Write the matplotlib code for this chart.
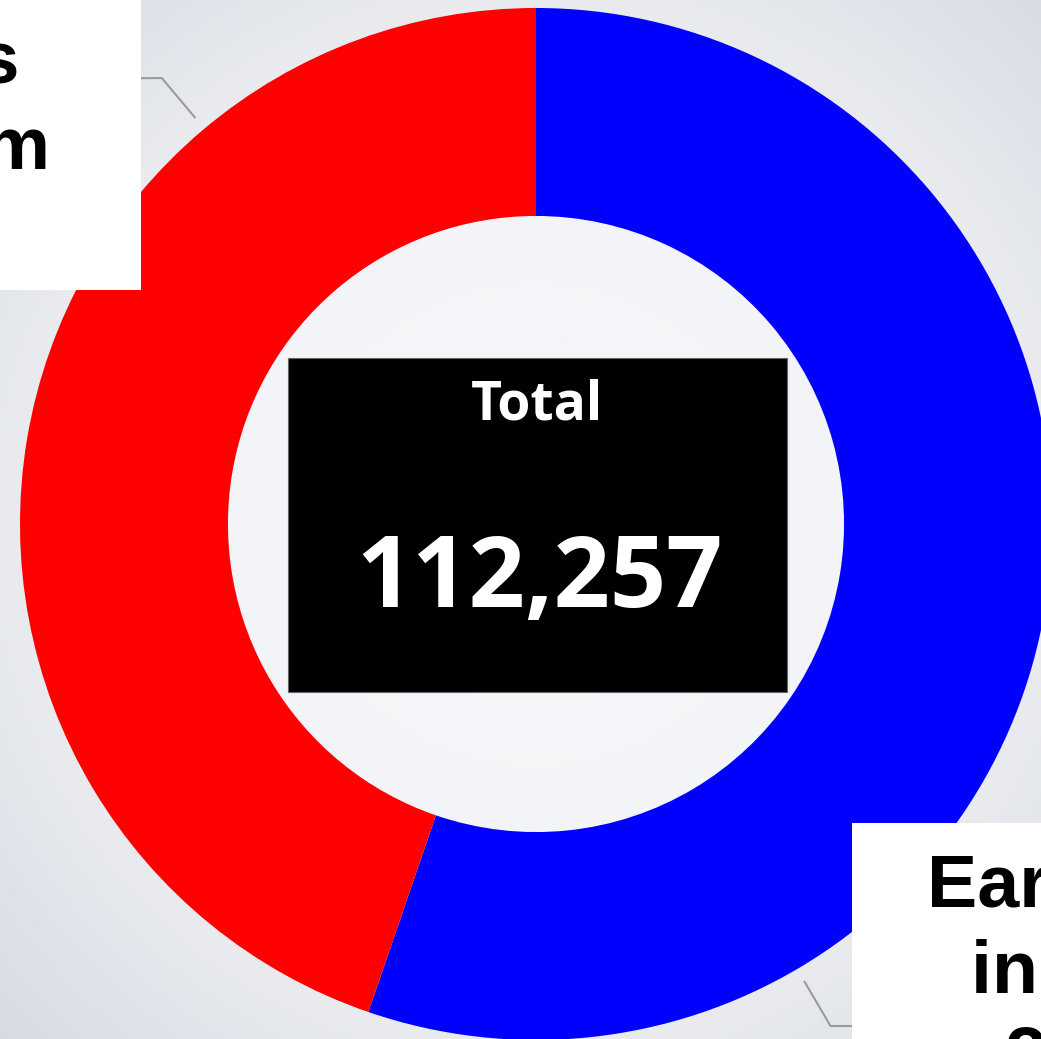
import numpy as np
import matplotlib.pyplot as plt
from matplotlib.colors import LinearSegmentedColormap
from matplotlib.patches import Rectangle

# donut data: blue slice first, running clockwise from 12 o'clock
labels = ["Earnings\nin May\n2023", "Outflows\nfrom Team\n2023"]
values = [62040, 50217]
colors = ["#0000ff", "#ff0000"]
title = "Total"

W, H = 1041, 1039
cx, cy, R = 536, 524, 516          # donut centre and radius in pixels
fig = plt.figure(figsize=(W / 100, H / 100), dpi=100)

# soft grey backdrop, lighter towards the middle
bg = fig.add_axes([0, 0, 1, 1])
yy, xx = np.mgrid[0:H, 0:W]
dist = np.hypot(xx - cx, yy - cy) / 760.0
shade = LinearSegmentedColormap.from_list(
    "shade", [(0.0, "#f8f9fb"), (0.4, "#f3f4f7"), (0.7, "#e8eaee"), (1.0, "#d5dae3")])
bg.imshow(np.clip(dist, 0, 1), cmap=shade, vmin=0, vmax=1, extent=[0, W, H, 0], aspect="auto")
bg.axis("off")

ax = fig.add_axes([(cx - R) / W, (H - cy - R) / H, 2 * R / W, 2 * R / H])
ax.pie(values, colors=colors, startangle=90, counterclock=False, radius=1,
       wedgeprops=dict(width=0.403, linewidth=0))
ax.set_xlim(-1, 1)
ax.set_ylim(-1, 1)
ax.set_aspect("equal")
ax.axis("off")

# centre card
ax.add_patch(Rectangle((-0.481, -0.326), 0.967, 0.648, facecolor="black",
                       edgecolor="#666666", linewidth=0.8, zorder=3))
ax.text(0.002, 0.2016, title, ha="center", va="baseline", color="white",
        fontsize=38.5, fontweight="bold", family="Open Sans", zorder=4)
ax.text(0.006, -0.161, f"{sum(values):,}", ha="center", va="baseline", color="white",
        fontsize=71, fontweight="bold", family="Open Sans", zorder=4)

# slice labels with leader lines
leader_angle = [-59.6, 130.0]
box_edge = [0.6124, -0.7655]
text_pos = [(1.071, -0.6376), (-1.311, 0.960)]
boxes = [(0.6124, -1.3, 1.0, 0.7205), (-1.8, 0.4535, 1.0345, 0.8)]
for i in range(len(values)):
    a = np.radians(leader_angle[i])
    x0, y0 = 1.029 * np.cos(a), 1.029 * np.sin(a)
    x1, y1 = 1.128 * np.cos(a), 1.128 * np.sin(a)
    ax.plot([x0, x1, box_edge[i]], [y0, y1, y1], color="#9a9a9a", lw=1.5,
            clip_on=False, zorder=2)
    bx, by, bw, bh = boxes[i]
    ax.add_patch(Rectangle((bx, by), bw, bh, facecolor="white", edgecolor="none",
                           clip_on=False, zorder=5))
    ax.text(text_pos[i][0], text_pos[i][1], labels[i], ha="center", va="top",
            multialignment="center", fontsize=54.3, fontweight="bold",
            family="Liberation Sans", linespacing=1.31, color="black",
            clip_on=False, zorder=6)

fig.savefig("out.png", dpi=100)
